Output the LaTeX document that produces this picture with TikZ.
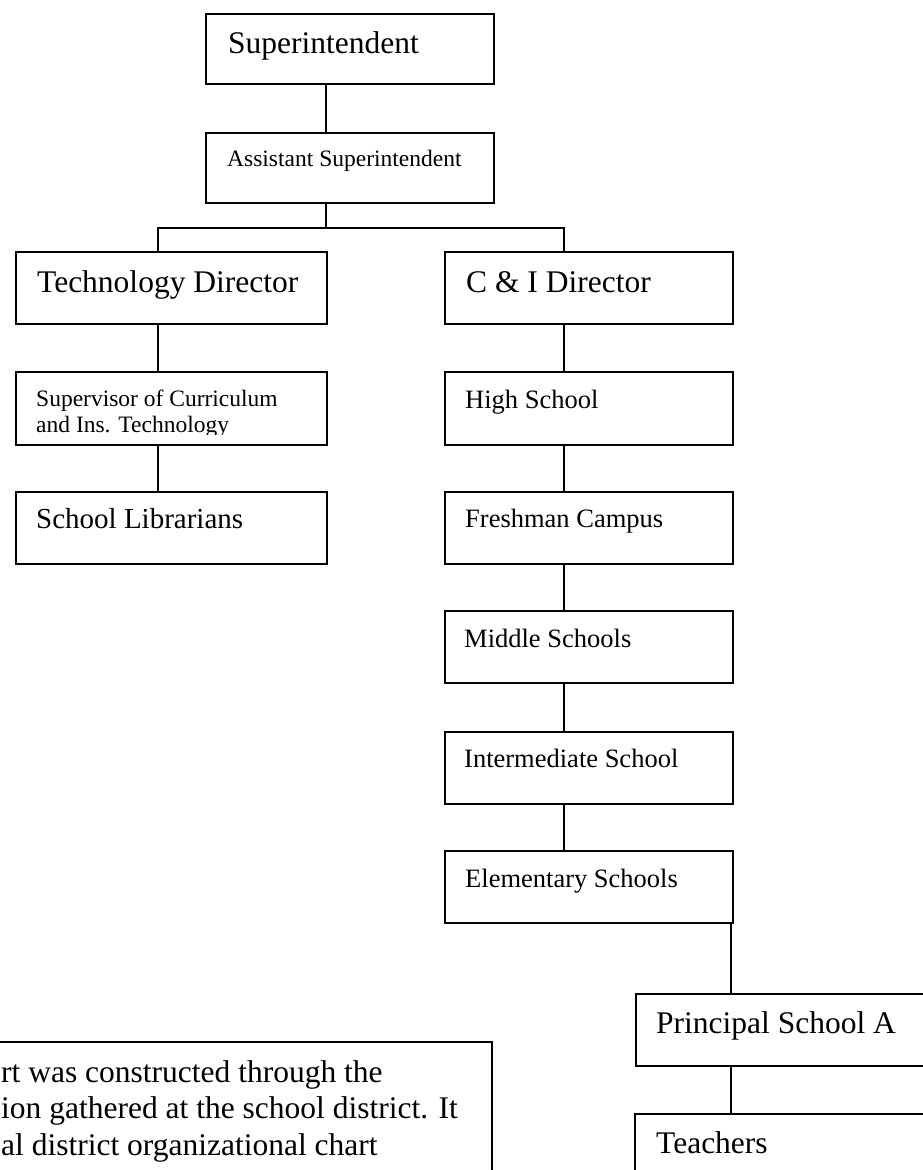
\documentclass[tikz,border=0pt]{standalone}
\usepackage{fontspec}
\setmainfont{Liberation Serif}
\begin{document}
\begin{tikzpicture}[x=1pt,y=-1pt,
  box/.style={draw, line width=1.6pt, rectangle, inner sep=0pt, anchor=north west},
  link/.style={line width=1.6pt},
  big/.style={anchor=base west, inner sep=0pt, font=\fontsize{31.5}{36.5}\selectfont},
  mid/.style={anchor=base west, inner sep=0pt, font=\fontsize{26.5}{30}\selectfont},
  small/.style={anchor=base west, inner sep=0pt, font=\fontsize{23.5}{26}\selectfont}]
\useasboundingbox (0,0) rectangle (922,1170);
% column coordinates
\coordinate (colL) at (158,0);
\coordinate (colM) at (326,0);
\coordinate (colR) at (564,0);
\coordinate (colE) at (731,0);
\coordinate (bar) at (326,228);
% boxes
\node[box, minimum width=288pt, minimum height=70pt] (sup) at (205,13) {};
\node[box, minimum width=288pt, minimum height=70pt] (asst) at (205,132) {};
\node[box, minimum width=311pt, minimum height=72pt] (tech) at (15,251) {};
\node[box, minimum width=288pt, minimum height=72pt] (cdir) at (444,251) {};
\node[box, minimum width=311pt, minimum height=73pt] (supv) at (15,371) {};
\node[box, minimum width=288pt, minimum height=73pt] (hs) at (444,371) {};
\node[box, minimum width=311pt, minimum height=72pt] (lib) at (15,491) {};
\node[box, minimum width=288pt, minimum height=72pt] (fresh) at (444,491) {};
\node[box, minimum width=288pt, minimum height=72pt] (mid) at (444,610) {};
\node[box, minimum width=288pt, minimum height=72pt] (inter) at (444,731) {};
\node[box, minimum width=288pt, minimum height=72pt] (elem) at (444,850) {};
\node[box, minimum width=300pt, minimum height=72pt] (prin) at (635,993) {};
\node[box, minimum width=300pt, minimum height=80pt] (teach) at (634,1113) {};
\node[box, minimum width=511pt, minimum height=150pt] (note) at (-20,1041) {};
% texts
\node[big] (tsup) at (228,53) {Superintendent};
\node[small] (tasst) at (227,166) {Assistant Superintendent};
\node[big] (ttech) at (37,292) {Technology Director};
\node[big] (tcdir) at (466,292) {C \& I Director};
\begin{scope}
\clip (15,371) rectangle (326,434);
\node[small] (tsupv1) at (36,406) {Supervisor of Curriculum};
\node[small] (tsupv2) at (36,432) {and Ins. Technology};
\end{scope}
\node[mid] (ths) at (465,408) {High School};
\node[big, font=\fontsize{29}{33}\selectfont] (tlib) at (36,528) {School Librarians};
\node[mid] (tfresh) at (465,527) {Freshman Campus};
\node[mid] (tmid) at (464,647) {Middle Schools};
\node[mid] (tinter) at (464,767) {Intermediate School};
\node[mid] (telem) at (465,887) {Elementary Schools};
\node[big] (tprin) at (656,1033) {Principal School A};
\node[big] (tteach) at (656,1153) {Teachers};
\node[big] (tn1) at (1,1082) {rt was constructed through the};
\node[big] (tn2) at (1,1118) {ion gathered at the school district. It};
\node[big] (tn3) at (1,1155) {al district organizational chart};
% connectors
\draw[link] (sup.south -| colM) -- (asst.north -| colM);
\draw[link] (asst.south -| colM) -- (bar);
\draw[link] (tech.north -| colL) |- (bar) -| (cdir.north -| colR);
\draw[link] (tech.south -| colL) -- (supv.north -| colL);
\draw[link] (supv.south -| colL) -- (lib.north -| colL);
\draw[link] (cdir.south -| colR) -- (hs.north -| colR);
\draw[link] (hs.south -| colR) -- (fresh.north -| colR);
\draw[link] (fresh.south -| colR) -- (mid.north -| colR);
\draw[link] (mid.south -| colR) -- (inter.north -| colR);
\draw[link] (inter.south -| colR) -- (elem.north -| colR);
\draw[link] (elem.south -| colE) -- (prin.north -| colE);
\draw[link] (prin.south -| colE) -- (teach.north -| colE);
\end{tikzpicture}
\end{document}
